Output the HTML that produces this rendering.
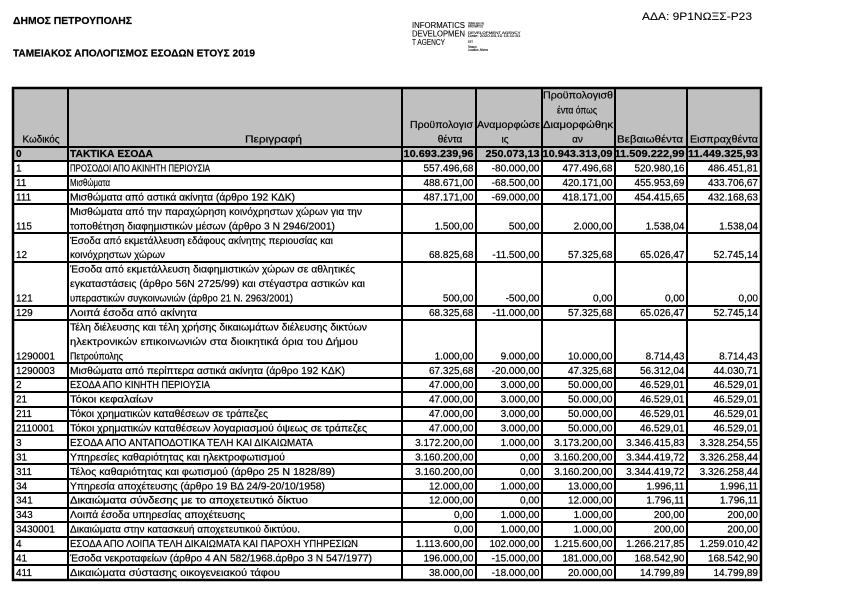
<!DOCTYPE html>
<html><head><meta charset="utf-8">
<style>
html,body{margin:0;padding:0;background:#fff;}
svg{display:block;}
text{font-family:"Liberation Sans","DejaVu Sans",sans-serif;fill:#000;stroke:#000;stroke-width:0.2px;}
.t{font-size:10px;}
.b{font-size:10px;font-weight:bold;}
.n{font-size:10px;text-anchor:end;}
.nb{font-size:10px;font-weight:bold;text-anchor:end;}
.h{font-size:10px;text-anchor:middle;}
.s{font-size:7px;}
</style></head>
<body>
<svg width="842" height="595" viewBox="0 0 842 595" xmlns="http://www.w3.org/2000/svg">
<rect width="842" height="595" fill="#fff"/>
<!-- titles -->
<text class="b" x="13" y="24" textLength="119" lengthAdjust="spacingAndGlyphs">ΔΗΜΟΣ ΠΕΤΡΟΥΠΟΛΗΣ</text>
<text class="b" x="13" y="56.5" textLength="242" lengthAdjust="spacingAndGlyphs">ΤΑΜΕΙΑΚΟΣ ΑΠΟΛΟΓΙΣΜΟΣ ΕΣΟΔΩΝ ΕΤΟΥΣ 2019</text>
<text x="642" y="20" style="font-size:11px;stroke-width:0.1px" textLength="110" lengthAdjust="spacingAndGlyphs">ΑΔΑ: 9Ρ1ΝΩΞΣ-Ρ23</text>
<!-- stamp -->
<text x="412" y="28" style="font-size:8px;stroke-width:0.1px" textLength="53" lengthAdjust="spacingAndGlyphs">INFORMATICS</text>
<text x="412" y="36.5" style="font-size:8px;stroke-width:0.1px" textLength="53" lengthAdjust="spacingAndGlyphs">DEVELOPMEN</text>
<text x="412" y="45" style="font-size:8px;stroke-width:0.1px" textLength="33" lengthAdjust="spacingAndGlyphs">T AGENCY</text>
<g transform="translate(468,0) scale(0.5)">
<text class="s" x="0" y="49" textLength="32" lengthAdjust="spacingAndGlyphs">Digitally signed by</text>
<text class="s" x="0" y="55" textLength="30" lengthAdjust="spacingAndGlyphs">INFORMATICS</text>
<text class="s" x="0" y="68" textLength="105" lengthAdjust="spacingAndGlyphs">DEVELOPMENT AGENCY</text>
<text class="s" x="0" y="74" textLength="105" lengthAdjust="spacingAndGlyphs">Date: 2020.03.10 13:11:51</text>
<text class="s" x="0" y="86" textLength="10" lengthAdjust="spacingAndGlyphs">EET</text>
<text class="s" x="0" y="96" textLength="18" lengthAdjust="spacingAndGlyphs">Reason:</text>
<text class="s" x="0" y="102" textLength="40" lengthAdjust="spacingAndGlyphs">Location: Athens</text>
</g>

<!-- gray backgrounds -->
<rect x="13" y="88" width="748" height="73" fill="#c0c0c0"/>

<!-- horizontal lines -->
<g stroke="#000" stroke-width="2">
<line x1="13" x2="761" y1="147" y2="147"/>
<line x1="13" x2="761" y1="161" y2="161"/>
<line x1="13" x2="761" y1="176" y2="176"/>
<line x1="13" x2="761" y1="190" y2="190"/>
<line x1="13" x2="761" y1="204" y2="204"/>
<line x1="13" x2="761" y1="233" y2="233"/>
<line x1="13" x2="761" y1="262" y2="262"/>
<line x1="13" x2="761" y1="306" y2="306"/>
<line x1="13" x2="761" y1="320" y2="320"/>
<line x1="13" x2="761" y1="363" y2="363"/>
<line x1="13" x2="761" y1="378" y2="378"/>
<line x1="13" x2="761" y1="392" y2="392"/>
<line x1="13" x2="761" y1="407" y2="407"/>
<line x1="13" x2="761" y1="421" y2="421"/>
<line x1="13" x2="761" y1="435" y2="435"/>
<line x1="13" x2="761" y1="450" y2="450"/>
<line x1="13" x2="761" y1="464" y2="464"/>
<line x1="13" x2="761" y1="479" y2="479"/>
<line x1="13" x2="761" y1="493" y2="493"/>
<line x1="13" x2="761" y1="508" y2="508"/>
<line x1="13" x2="761" y1="522" y2="522"/>
<line x1="13" x2="761" y1="537" y2="537"/>
<line x1="13" x2="761" y1="551" y2="551"/>
<line x1="13" x2="761" y1="565" y2="565"/>
<!-- verticals -->
<line x1="68" x2="68" y1="88" y2="580"/>
<line x1="402" x2="402" y1="88" y2="580"/>
<line x1="476" x2="476" y1="88" y2="580"/>
<line x1="542" x2="542" y1="88" y2="580"/>
<line x1="615" x2="615" y1="88" y2="580"/>
<line x1="687" x2="687" y1="88" y2="580"/>
</g>
<rect x="13" y="88" width="748" height="492" fill="none" stroke="#000" stroke-width="2.5"/>

<!-- header labels -->
<text class="h" x="41" y="142.7" textLength="37" lengthAdjust="spacingAndGlyphs">Κωδικός</text>
<text class="h" x="273.5" y="142.7" textLength="57" lengthAdjust="spacingAndGlyphs">Περιγραφή</text>
<text class="h" x="441.5" y="128" textLength="63" lengthAdjust="spacingAndGlyphs">Προϋπολογισ</text>
<text class="h" x="450" y="142.7">θέντα</text>
<text class="h" x="508.5" y="128" textLength="63" lengthAdjust="spacingAndGlyphs">Αναμορφώσε</text>
<text class="h" x="505" y="142.7">ις</text>
<text class="h" x="578" y="98.7" textLength="70" lengthAdjust="spacingAndGlyphs">Προϋπολογισθ</text>
<text class="h" x="577" y="113.3" textLength="40" lengthAdjust="spacingAndGlyphs">έντα όπως</text>
<text class="h" x="578" y="128" textLength="70" lengthAdjust="spacingAndGlyphs">Διαμορφώθηκ</text>
<text class="h" x="577.5" y="142.7">αν</text>
<text class="h" x="650" y="142.7" textLength="66" lengthAdjust="spacingAndGlyphs">Βεβαιωθέντα</text>
<text class="h" x="724" y="142.7" textLength="68" lengthAdjust="spacingAndGlyphs">Εισπραχθέντα</text>

<!-- codes -->
<g class="t">
<text x="16" y="157.1" style="font-weight:bold">0</text>
<text x="16" y="171.6">1</text>
<text x="16" y="186.0">11</text>
<text x="16" y="200.5">111</text>
<text x="16" y="229.4">115</text>
<text x="16" y="258.2">12</text>
<text x="16" y="301.6">121</text>
<text x="16" y="316.0">129</text>
<text x="16" y="359.3">1290001</text>
<text x="16" y="373.8">1290003</text>
<text x="16" y="388.2">2</text>
<text x="16" y="402.6">21</text>
<text x="16" y="417.1">211</text>
<text x="16" y="431.5">2110001</text>
<text x="16" y="446.0">3</text>
<text x="16" y="460.4">31</text>
<text x="16" y="474.8">311</text>
<text x="16" y="489.3">34</text>
<text x="16" y="503.7">341</text>
<text x="16" y="518.2">343</text>
<text x="16" y="532.6">3430001</text>
<text x="16" y="547.0">4</text>
<text x="16" y="561.5">41</text>
<text x="16" y="575.9">411</text>
</g>

<!-- descriptions -->
<g class="t">
<text x="70" y="157.1" style="font-weight:bold" textLength="83" lengthAdjust="spacingAndGlyphs">ΤΑΚΤΙΚΑ ΕΣΟΔΑ</text>
<text x="70" y="171.6" textLength="140" lengthAdjust="spacingAndGlyphs">ΠΡΟΣΟΔΟΙ ΑΠΟ ΑΚΙΝΗΤΗ ΠΕΡΙΟΥΣΙΑ</text>
<text x="70" y="186.0" textLength="40" lengthAdjust="spacingAndGlyphs">Μισθώματα</text>
<text x="70" y="200.5" textLength="225" lengthAdjust="spacingAndGlyphs">Μισθώματα από αστικά ακίνητα (άρθρο 192 ΚΔΚ)</text>
<text x="70" y="214.9" textLength="292" lengthAdjust="spacingAndGlyphs">Μισθώματα από την παραχώρηση κοινόχρηστων χώρων για την</text>
<text x="70" y="229.4" textLength="265" lengthAdjust="spacingAndGlyphs">τοποθέτηση διαφημιστικών μέσων (άρθρο 3 Ν 2946/2001)</text>
<text x="70" y="243.8" textLength="263" lengthAdjust="spacingAndGlyphs">Έσοδα από εκμετάλλευση εδάφους ακίνητης περιουσίας και</text>
<text x="70" y="258.2" textLength="95" lengthAdjust="spacingAndGlyphs">κοινόχρηστων χώρων</text>
<text x="70" y="272.7" textLength="285" lengthAdjust="spacingAndGlyphs">Έσοδα από εκμετάλλευση διαφημιστικών χώρων σε αθλητικές</text>
<text x="70" y="287.1" textLength="295" lengthAdjust="spacingAndGlyphs">εγκαταστάσεις (άρθρο 56Ν 2725/99) και στέγαστρα αστικών και</text>
<text x="70" y="301.6" textLength="223" lengthAdjust="spacingAndGlyphs">υπεραστικών συγκοινωνιών (άρθρο 21 Ν. 2963/2001)</text>
<text x="70" y="316.0" textLength="127" lengthAdjust="spacingAndGlyphs">Λοιπά έσοδα από ακίνητα</text>
<text x="70" y="330.4" textLength="297" lengthAdjust="spacingAndGlyphs">Τέλη διέλευσης και τέλη χρήσης δικαιωμάτων διέλευσης δικτύων</text>
<text x="70" y="344.9" textLength="288" lengthAdjust="spacingAndGlyphs">ηλεκτρονικών επικοινωνιών στα διοικητικά όρια του Δήμου</text>
<text x="70" y="359.3" textLength="53" lengthAdjust="spacingAndGlyphs">Πετρούπολης</text>
<text x="70" y="373.8" textLength="275" lengthAdjust="spacingAndGlyphs">Μισθώματα από περίπτερα αστικά ακίνητα (άρθρο 192 ΚΔΚ)</text>
<text x="70" y="388.2" textLength="140" lengthAdjust="spacingAndGlyphs">ΕΣΟΔΑ ΑΠΟ ΚΙΝΗΤΗ ΠΕΡΙΟΥΣΙΑ</text>
<text x="70" y="402.6" textLength="83" lengthAdjust="spacingAndGlyphs">Τόκοι κεφαλαίων</text>
<text x="70" y="417.1" textLength="198" lengthAdjust="spacingAndGlyphs">Τόκοι χρηματικών καταθέσεων σε τράπεζες</text>
<text x="70" y="431.5" textLength="297" lengthAdjust="spacingAndGlyphs">Τόκοι χρηματικών καταθέσεων λογαριασμού όψεως σε τράπεζες</text>
<text x="70" y="446.0" textLength="243" lengthAdjust="spacingAndGlyphs">ΕΣΟΔΑ ΑΠΟ ΑΝΤΑΠΟΔΟΤΙΚΑ ΤΕΛΗ ΚΑΙ ΔΙΚΑΙΩΜΑΤΑ</text>
<text x="70" y="460.4" textLength="215" lengthAdjust="spacingAndGlyphs">Υπηρεσίες καθαριότητας και ηλεκτροφωτισμού</text>
<text x="70" y="474.8" textLength="265" lengthAdjust="spacingAndGlyphs">Τέλος καθαριότητας και φωτισμού (άρθρο 25 Ν 1828/89)</text>
<text x="70" y="489.3" textLength="255" lengthAdjust="spacingAndGlyphs">Υπηρεσία αποχέτευσης (άρθρο 19 ΒΔ 24/9-20/10/1958)</text>
<text x="70" y="503.7" textLength="238" lengthAdjust="spacingAndGlyphs">Δικαιώματα σύνδεσης με το αποχετευτικό δίκτυο</text>
<text x="70" y="518.2" textLength="175" lengthAdjust="spacingAndGlyphs">Λοιπά έσοδα υπηρεσίας αποχέτευσης</text>
<text x="70" y="532.6" textLength="230" lengthAdjust="spacingAndGlyphs">Δικαιώματα στην κατασκευή αποχετευτικού δικτύου.</text>
<text x="70" y="547.0" textLength="288" lengthAdjust="spacingAndGlyphs">ΕΣΟΔΑ ΑΠΟ ΛΟΙΠΑ ΤΕΛΗ ΔΙΚΑΙΩΜΑΤΑ ΚΑΙ ΠΑΡΟΧΗ ΥΠΗΡΕΣΙΩΝ</text>
<text x="70" y="561.5" textLength="302" lengthAdjust="spacingAndGlyphs">Έσοδα νεκροταφείων (άρθρο 4 ΑΝ 582/1968.άρθρο 3 Ν 547/1977)</text>
<text x="70" y="575.9" textLength="210" lengthAdjust="spacingAndGlyphs">Δικαιώματα σύστασης οικογενειακού τάφου</text>
</g>

<!-- numbers: bold row -->
<text class="nb" x="473.5" y="157.1" textLength="70" lengthAdjust="spacingAndGlyphs">10.693.239,96</text>
<text class="nb" x="539.5" y="157.1" textLength="54" lengthAdjust="spacingAndGlyphs">250.073,13</text>
<text class="nb" x="612.5" y="157.1" textLength="70" lengthAdjust="spacingAndGlyphs">10.943.313,09</text>
<text class="nb" x="684.5" y="157.1" textLength="70" lengthAdjust="spacingAndGlyphs">11.509.222,99</text>
<text class="nb" x="758" y="157.1" textLength="70" lengthAdjust="spacingAndGlyphs">11.449.325,93</text>

<!-- column 1 -->
<g class="n">
<text x="473.5" y="171.6">557.496,68</text>
<text x="473.5" y="186.0">488.671,00</text>
<text x="473.5" y="200.5">487.171,00</text>
<text x="473.5" y="229.4">1.500,00</text>
<text x="473.5" y="258.2">68.825,68</text>
<text x="473.5" y="301.6">500,00</text>
<text x="473.5" y="316.0">68.325,68</text>
<text x="473.5" y="359.3">1.000,00</text>
<text x="473.5" y="373.8">67.325,68</text>
<text x="473.5" y="388.2">47.000,00</text>
<text x="473.5" y="402.6">47.000,00</text>
<text x="473.5" y="417.1">47.000,00</text>
<text x="473.5" y="431.5">47.000,00</text>
<text x="473.5" y="446.0">3.172.200,00</text>
<text x="473.5" y="460.4">3.160.200,00</text>
<text x="473.5" y="474.8">3.160.200,00</text>
<text x="473.5" y="489.3">12.000,00</text>
<text x="473.5" y="503.7">12.000,00</text>
<text x="473.5" y="518.2">0,00</text>
<text x="473.5" y="532.6">0,00</text>
<text x="473.5" y="547.0">1.113.600,00</text>
<text x="473.5" y="561.5">196.000,00</text>
<text x="473.5" y="575.9">38.000,00</text>
</g>
<!-- column 2 -->
<g class="n">
<text x="539.5" y="171.6">-80.000,00</text>
<text x="539.5" y="186.0">-68.500,00</text>
<text x="539.5" y="200.5">-69.000,00</text>
<text x="539.5" y="229.4">500,00</text>
<text x="539.5" y="258.2">-11.500,00</text>
<text x="539.5" y="301.6">-500,00</text>
<text x="539.5" y="316.0">-11.000,00</text>
<text x="539.5" y="359.3">9.000,00</text>
<text x="539.5" y="373.8">-20.000,00</text>
<text x="539.5" y="388.2">3.000,00</text>
<text x="539.5" y="402.6">3.000,00</text>
<text x="539.5" y="417.1">3.000,00</text>
<text x="539.5" y="431.5">3.000,00</text>
<text x="539.5" y="446.0">1.000,00</text>
<text x="539.5" y="460.4">0,00</text>
<text x="539.5" y="474.8">0,00</text>
<text x="539.5" y="489.3">1.000,00</text>
<text x="539.5" y="503.7">0,00</text>
<text x="539.5" y="518.2">1.000,00</text>
<text x="539.5" y="532.6">1.000,00</text>
<text x="539.5" y="547.0">102.000,00</text>
<text x="539.5" y="561.5">-15.000,00</text>
<text x="539.5" y="575.9">-18.000,00</text>
</g>
<!-- column 3 -->
<g class="n">
<text x="612.5" y="171.6">477.496,68</text>
<text x="612.5" y="186.0">420.171,00</text>
<text x="612.5" y="200.5">418.171,00</text>
<text x="612.5" y="229.4">2.000,00</text>
<text x="612.5" y="258.2">57.325,68</text>
<text x="612.5" y="301.6">0,00</text>
<text x="612.5" y="316.0">57.325,68</text>
<text x="612.5" y="359.3">10.000,00</text>
<text x="612.5" y="373.8">47.325,68</text>
<text x="612.5" y="388.2">50.000,00</text>
<text x="612.5" y="402.6">50.000,00</text>
<text x="612.5" y="417.1">50.000,00</text>
<text x="612.5" y="431.5">50.000,00</text>
<text x="612.5" y="446.0">3.173.200,00</text>
<text x="612.5" y="460.4">3.160.200,00</text>
<text x="612.5" y="474.8">3.160.200,00</text>
<text x="612.5" y="489.3">13.000,00</text>
<text x="612.5" y="503.7">12.000,00</text>
<text x="612.5" y="518.2">1.000,00</text>
<text x="612.5" y="532.6">1.000,00</text>
<text x="612.5" y="547.0">1.215.600,00</text>
<text x="612.5" y="561.5">181.000,00</text>
<text x="612.5" y="575.9">20.000,00</text>
</g>
<!-- column 4 -->
<g class="n">
<text x="684.5" y="171.6">520.980,16</text>
<text x="684.5" y="186.0">455.953,69</text>
<text x="684.5" y="200.5">454.415,65</text>
<text x="684.5" y="229.4">1.538,04</text>
<text x="684.5" y="258.2">65.026,47</text>
<text x="684.5" y="301.6">0,00</text>
<text x="684.5" y="316.0">65.026,47</text>
<text x="684.5" y="359.3">8.714,43</text>
<text x="684.5" y="373.8">56.312,04</text>
<text x="684.5" y="388.2">46.529,01</text>
<text x="684.5" y="402.6">46.529,01</text>
<text x="684.5" y="417.1">46.529,01</text>
<text x="684.5" y="431.5">46.529,01</text>
<text x="684.5" y="446.0">3.346.415,83</text>
<text x="684.5" y="460.4">3.344.419,72</text>
<text x="684.5" y="474.8">3.344.419,72</text>
<text x="684.5" y="489.3">1.996,11</text>
<text x="684.5" y="503.7">1.796,11</text>
<text x="684.5" y="518.2">200,00</text>
<text x="684.5" y="532.6">200,00</text>
<text x="684.5" y="547.0">1.266.217,85</text>
<text x="684.5" y="561.5">168.542,90</text>
<text x="684.5" y="575.9">14.799,89</text>
</g>
<!-- column 5 -->
<g class="n">
<text x="758" y="171.6">486.451,81</text>
<text x="758" y="186.0">433.706,67</text>
<text x="758" y="200.5">432.168,63</text>
<text x="758" y="229.4">1.538,04</text>
<text x="758" y="258.2">52.745,14</text>
<text x="758" y="301.6">0,00</text>
<text x="758" y="316.0">52.745,14</text>
<text x="758" y="359.3">8.714,43</text>
<text x="758" y="373.8">44.030,71</text>
<text x="758" y="388.2">46.529,01</text>
<text x="758" y="402.6">46.529,01</text>
<text x="758" y="417.1">46.529,01</text>
<text x="758" y="431.5">46.529,01</text>
<text x="758" y="446.0">3.328.254,55</text>
<text x="758" y="460.4">3.326.258,44</text>
<text x="758" y="474.8">3.326.258,44</text>
<text x="758" y="489.3">1.996,11</text>
<text x="758" y="503.7">1.796,11</text>
<text x="758" y="518.2">200,00</text>
<text x="758" y="532.6">200,00</text>
<text x="758" y="547.0">1.259.010,42</text>
<text x="758" y="561.5">168.542,90</text>
<text x="758" y="575.9">14.799,89</text>
</g>
</svg>
</body></html>
